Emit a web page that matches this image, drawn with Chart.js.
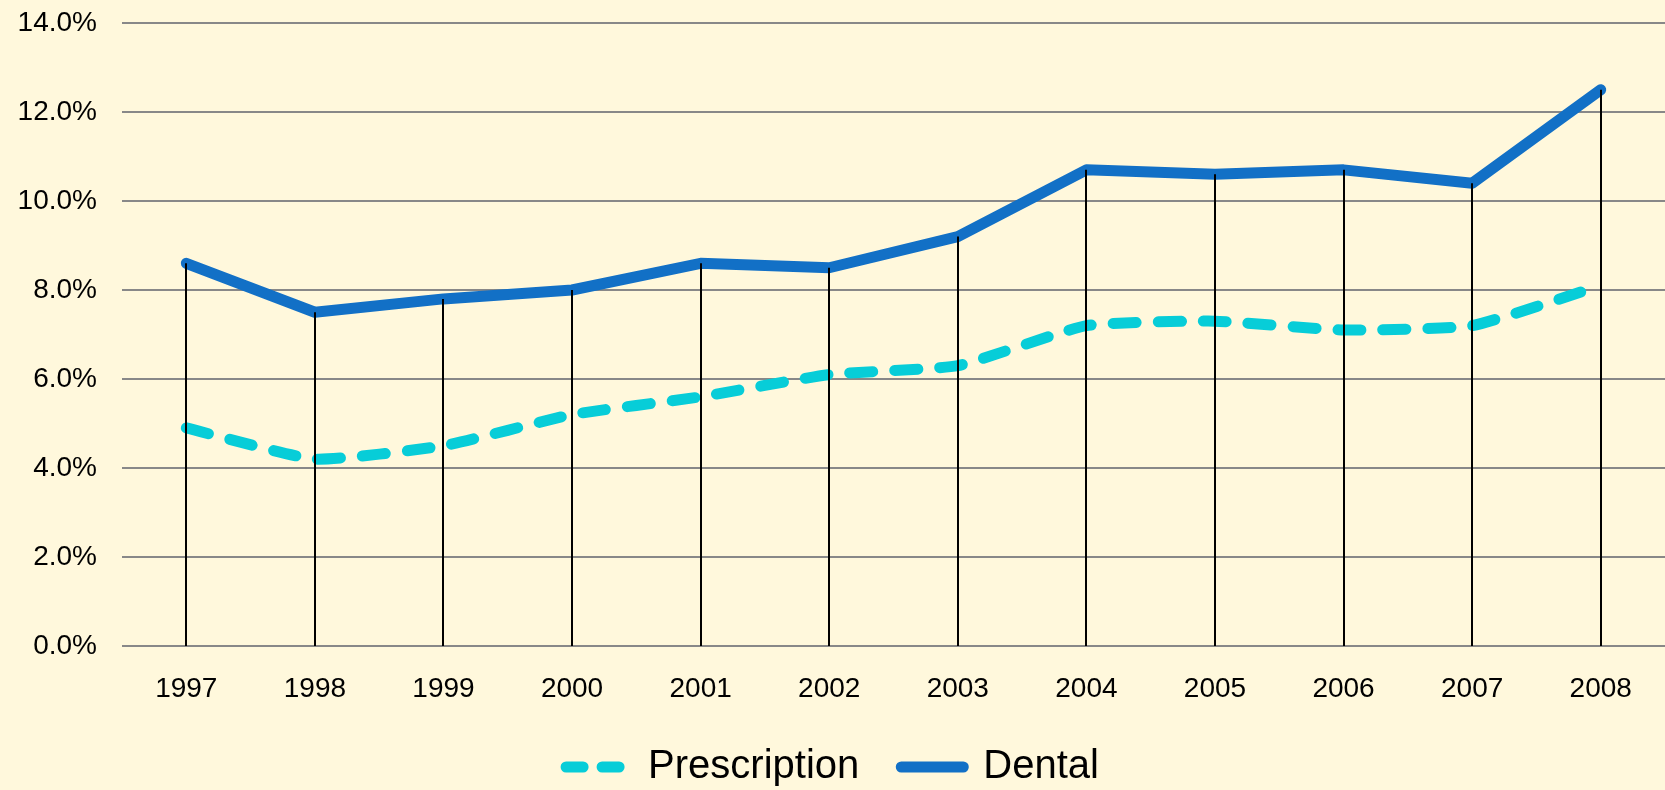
<!DOCTYPE html>
<html>
<head>
<meta charset="utf-8">
<script src="https://cdn.jsdelivr.net/npm/chart.js@4"></script>
<style>
  html, body { margin: 0; padding: 0; background: #FFF8DC; }
  #wrap { width: 1665px; height: 790px; position: relative; }
</style>
</head>
<body>
<div id="wrap"><canvas id="rates"></canvas></div>
<script>
const years = ["1997", "1998", "1999", "2000", "2001", "2002", "2003", "2004", "2005", "2006", "2007", "2008"];
const prescription = [4.9, 4.2, 4.5, 5.2, 5.6, 6.1, 6.3, 7.2, 7.3, 7.1, 7.2, 8.1];
const dental = [8.6, 7.5, 7.8, 8.0, 8.6, 8.5, 9.2, 10.7, 10.6, 10.7, 10.4, 12.5];
const yTicks = [0, 2, 4, 6, 8, 10, 12, 14];

const font = "'Liberation Sans', Arial, sans-serif";

// black drop lines from each Dental point down to the axis
const dropLines = {
  id: "dropLines",
  afterDatasetsDraw(chart) {
    const ctx = chart.ctx;
    const meta = chart.getDatasetMeta(1);
    const bottom = chart.scales.y.getPixelForValue(0);
    ctx.save();
    ctx.strokeStyle = "#000";
    ctx.lineWidth = 2;
    meta.data.forEach((pt) => {
      ctx.beginPath();
      ctx.moveTo(Math.round(pt.x), pt.y);
      ctx.lineTo(Math.round(pt.x), bottom);
      ctx.stroke();
    });
    ctx.restore();
  },
};

const rates = document.getElementById("rates");

new Chart(rates, {
  type: "line",
  data: {
    labels: years,
    datasets: [
      {
        label: "Prescription",
        data: prescription,
        borderColor: "#07CDD8",
        backgroundColor: "#07CDD8",
        borderWidth: 11,
        borderDash: [23, 22],
        borderCapStyle: "round",
        borderJoinStyle: "round",
        pointRadius: 0,
        tension: 0.15,
      },
      {
        label: "Dental",
        data: dental,
        borderColor: "#1270C6",
        backgroundColor: "#1270C6",
        borderWidth: 11,
        borderCapStyle: "round",
        borderJoinStyle: "round",
        pointRadius: 0,
        tension: 0,
      },
    ],
  },
  options: {
    responsive: true,
    maintainAspectRatio: false,
    animation: false,
    layout: {
      padding: { top: 23, right: 0, bottom: -7, left: 0 },
    },
    scales: {
      x: {
        offset: true,
        grid: { display: false },
        border: { display: false },
        afterFit: (scale) => {
          scale.height = 59;
        },
        ticks: {
          color: "#000",
          padding: 18,
          font: { family: font, size: 28 },
        },
      },
      y: {
        min: 0,
        max: 14,
        afterBuildTicks: (scale) => {
          scale.ticks = yTicks.map((v) => ({ value: v }));
        },
        afterFit: (scale) => {
          scale.width = 122;
        },
        grid: {
          color: "#888888",
          lineWidth: 2,
          drawTicks: true,
          tickLength: 25,
          tickColor: "rgba(0,0,0,0)",
        },
        border: { display: false },
        ticks: {
          color: "#000",
          padding: 0,
          font: { family: font, size: 28 },
          callback: (v) => v.toFixed(1) + "%",
        },
      },
    },
    plugins: {
      tooltip: { enabled: false },
      legend: {
        position: "bottom",
        labels: {
          color: "#000",
          font: { family: font, size: 40 },
          usePointStyle: true,
          pointStyle: "line",
          pointStyleWidth: 62,
          padding: 42,
          generateLabels: (chart) =>
            Chart.defaults.plugins.legend.labels.generateLabels(chart).map((item) => ({
              ...item,
              lineWidth: 11,
              lineCap: "round",
              lineDash: chart.data.datasets[item.datasetIndex].borderDash ? [17, 19] : [],
            })),
        },
      },
    },
  },
  plugins: [dropLines],
});
</script>
</body>
</html>
